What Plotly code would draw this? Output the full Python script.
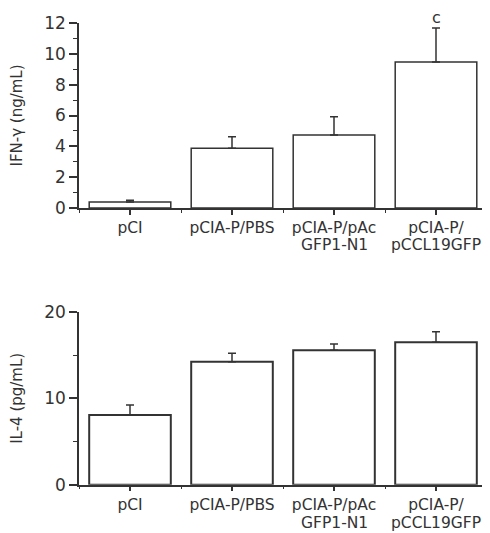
import plotly.graph_objects as go

categories_line1 = ["pCI", "pCIA-P/PBS", "pCIA-P/pAc", "pCIA-P/"]
categories_line2 = ["", "", "GFP1-N1", "pCCL19GFP"]
ifn_values = [0.39, 3.87, 4.73, 9.47]
ifn_errors = [0.12, 0.75, 1.19, 2.2]
il4_values = [8.07, 14.25, 15.57, 16.5]
il4_errors = [1.15, 0.97, 0.73, 1.2]
ifn_ticks = [0, 2, 4, 6, 8, 10, 12]
il4_ticks = [0, 10, 20]
sig_labels = ["", "", "", "c"]

# page body has an 8px margin, so the figure is drawn 8px right/down
OFF = 8
W, H = 490 - OFF, 533 - OFF
INK = "#333333"
FONT = "DejaVu Sans"
xpos = list(range(len(categories_line1)))

fig = go.Figure()
fig.add_trace(go.Bar(
    x=xpos, y=ifn_values, width=0.8, xaxis="x", yaxis="y",
    marker=dict(color="white", line=dict(color=INK, width=1.5)),
    error_y=dict(type="data", symmetric=False, array=ifn_errors,
                 arrayminus=[0] * 4, color=INK, thickness=1.5, width=4),
    showlegend=False))
fig.add_trace(go.Bar(
    x=xpos, y=il4_values, width=0.8, xaxis="x2", yaxis="y2",
    marker=dict(color="white", line=dict(color=INK, width=2)),
    error_y=dict(type="data", symmetric=False, array=il4_errors,
                 arrayminus=[0] * 4, color=INK, thickness=1.5, width=4),
    showlegend=False))

for i, s in enumerate(sig_labels):
    if s:
        fig.add_annotation(x=xpos[i], y=ifn_values[i] + ifn_errors[i], xref="x", yref="y",
                           text=s, showarrow=False, yanchor="bottom", yshift=-1,
                           font=dict(family=FONT, size=16, color=INK))

# second lines of the category labels (tight line spacing as in the original)
for xr, yr, shift in (("x", "y domain", -37), ("x2", "y2 domain", -38)):
    for i, t in enumerate(categories_line2):
        if t:
            fig.add_annotation(x=xpos[i], y=0, xref=xr, yref=yr, text=t, showarrow=False,
                               yanchor="middle", yshift=shift, borderpad=0,
                               font=dict(family=FONT, size=15.5, color=INK))

def px_x(v):
    return (v - OFF) / W

def px_y(v):
    return (H - (v - OFF)) / H

xdom = [px_x(79), px_x(487)]
top_dom = [px_y(208), px_y(23)]
bot_dom = [px_y(484.7), px_y(312)]

def xaxis_cfg(anchor, standoff):
    return dict(domain=xdom, anchor=anchor, range=[-0.5, 3.5], tickmode="array",
                tickvals=xpos, ticktext=categories_line1, showline=True, linecolor=INK,
                linewidth=1.5, ticks="outside", ticklen=5, tickcolor=INK, tickwidth=1.5,
                showgrid=False, zeroline=False, automargin=False, ticklabelstandoff=standoff,
                tickfont=dict(family=FONT, size=15.5, color=INK),
                minor=dict(dtick=0.5, tick0=-0.5, ticks="outside", ticklen=3,
                           tickcolor=INK, tickwidth=1.2, showgrid=False))

def yaxis_cfg(anchor, dom, rng, ticks, minor_dtick, title):
    return dict(domain=dom, anchor=anchor, range=rng, tickmode="array", tickvals=ticks,
                showline=True, linecolor=INK, linewidth=1.5, ticks="outside", ticklen=8,
                tickcolor=INK, tickwidth=1.5, showgrid=False, zeroline=False, automargin=False,
                tickfont=dict(family=FONT, size=17, color=INK),
                minor=dict(dtick=minor_dtick, tick0=0, ticks="outside", ticklen=4,
                           tickcolor=INK, tickwidth=1.2, showgrid=False),
                title=dict(text=title, font=dict(family=FONT, size=15, color=INK), standoff=18))

fig.update_layout(
    width=W, height=H, margin=dict(l=0, r=0, t=0, b=0, autoexpand=False),
    paper_bgcolor="white", plot_bgcolor="white",
    xaxis=xaxis_cfg("y", 0),
    yaxis=yaxis_cfg("x", top_dom, [0, 12], ifn_ticks, 1, "IFN-γ (ng/mL)"),
    xaxis2=xaxis_cfg("y2", 0),
    yaxis2=yaxis_cfg("x2", bot_dom, [0, 20], il4_ticks, 5, "IL-4 (pg/mL)"),
    bargap=0.2,
)

fig.write_html("out.html")
